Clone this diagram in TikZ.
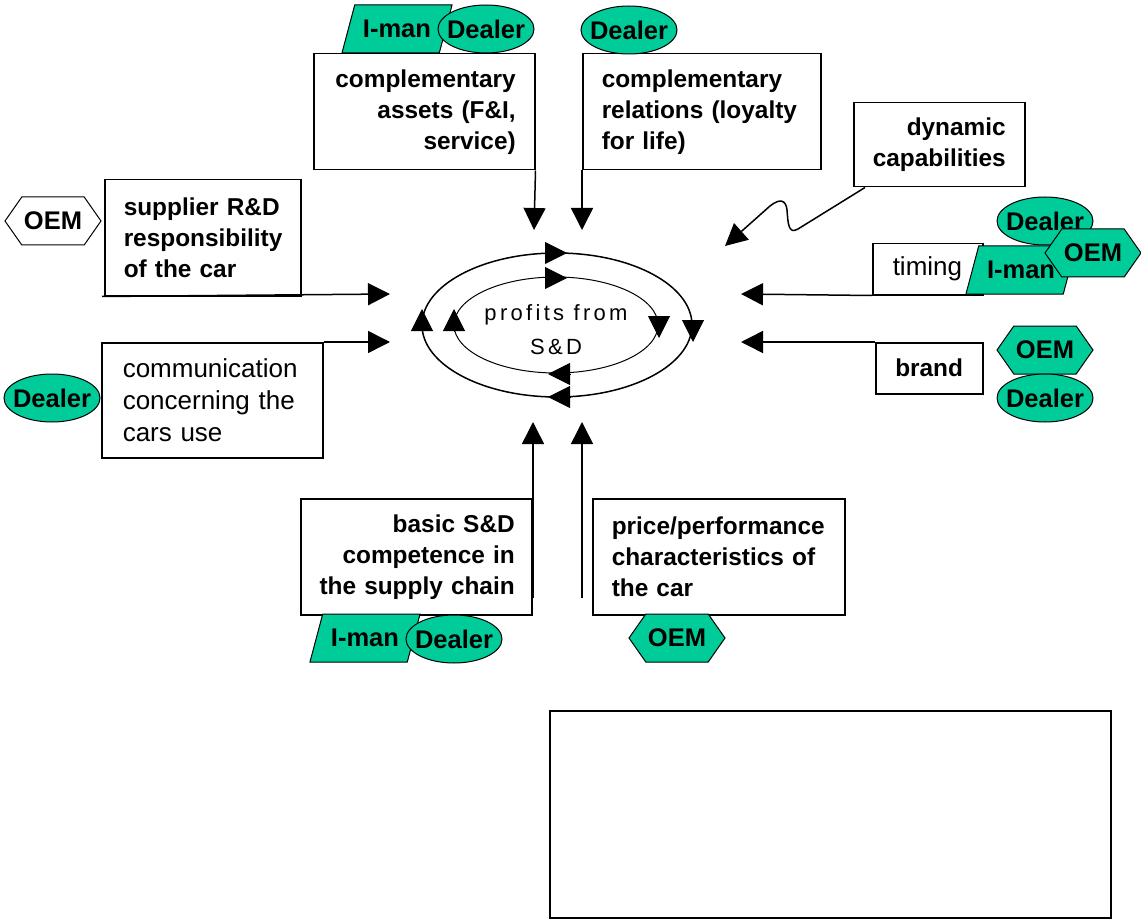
\documentclass[tikz,border=0pt]{standalone}
\usepackage{fontspec}
\setmainfont{Liberation Sans}
\newfontfamily\spacedfont[LetterSpace=15]{Liberation Sans}
\usetikzlibrary{arrows.meta,shapes.geometric,shapes.symbols}
\definecolor{tagGreen}{RGB}{0,204,153}

\begin{document}
\begin{tikzpicture}[x=1pt,y=-1pt,
    box/.style={draw,line width=1.5pt,inner sep=0pt,anchor=north west,
      font=\bfseries\fontsize{24.4}{31}\selectfont},
    plainbox/.style={box,font=\fontsize{26}{32}\selectfont},
    tag/.style={draw,line width=1pt,fill=tagGreen,inner sep=0pt,
      font=\bfseries\fontsize{25.5}{28}\selectfont},
    dealer/.style={tag,ellipse,inner xsep=-7pt,minimum width=96pt,minimum height=48pt},
    oem/.style={tag,signal,signal to=east and west,signal pointer angle=110,
      minimum width=96pt,minimum height=48pt},
    iman/.style={tag,trapezium,trapezium left angle=60,trapezium right angle=120,
      trapezium stretches=true,minimum width=111pt,minimum height=48pt},
    link/.style={line width=1.5pt,-{Triangle[length=22pt,width=22pt]}},
    loophead/.style={line width=1pt,-{Triangle[length=22pt,width=22pt]}}
  ]
\useasboundingbox (0,0) rectangle (1141,920);

% the loop in the middle
\draw[line width=1.5pt] (557,325) ellipse [x radius=135, y radius=72];
\draw[line width=1pt] (556,325) ellipse [x radius=102, y radius=48];
\draw[loophead] (545,253) -- (567,253);
\draw[loophead] (693,320) -- (693,342);
\draw[loophead] (570,397) -- (548,397);
\draw[loophead] (422,331) -- (422,309);
\draw[loophead] (545,278) -- (567,278);
\draw[loophead] (659,316) -- (659,338);
\draw[loophead] (570,374) -- (548,374);
\draw[loophead] (454,331) -- (454,309);
\node[align=center,font=\spacedfont\fontsize{22}{34}\selectfont] (profit) at (556,330)
  {profits from\\S\&D};

% boxes
\node[box,minimum width=221pt,minimum height=116pt,text width=183pt,align=right]
  (assets) at (313,53) {complementary\\assets (F\&I,\\service)};
\node[box,minimum width=238pt,minimum height=116pt,text width=200pt,align=left]
  (relations) at (582,53) {complementary\\relations (loyalty\\for life)};
\node[box,minimum width=171pt,minimum height=84pt,text width=133pt,align=right]
  (dynamic) at (853,102) {dynamic\\capabilities};
\node[box,minimum width=196pt,minimum height=116pt,text width=158pt,align=left]
  (supplier) at (104,179) {supplier R\&D\\responsibility\\of the car};
\node[plainbox,minimum width=221pt,minimum height=115pt,text width=179pt,align=left]
  (communication) at (101,342) {communication\\concerning the\\cars use};
\node[plainbox,minimum width=110pt,minimum height=51pt,text width=70pt,align=left]
  (timing) at (872,243) {timing};
\node[box,minimum width=107pt,minimum height=51pt,text width=68pt,align=left]
  (brand) at (875,342) {brand};
\node[box,minimum width=231pt,minimum height=116pt,text width=197pt,align=right]
  (basic) at (300,498) {basic S\&D\\competence in\\the supply chain};
\node[box,minimum width=252pt,minimum height=116pt,text width=214pt,align=left]
  (price) at (592,498) {price/performance\\characteristics of\\the car};
\node[box,minimum width=561pt,minimum height=207pt] (note) at (549,710) {};

% tags
\node[iman] (assetsIman) at (397,29) {I-man};
\node[dealer] (assetsDealer) at (486,29) {Dealer};
\node[dealer] (relationsDealer) at (629,30) {Dealer};
\node[oem,fill=white] (supplierOem) at (53,221) {OEM};
\node[dealer] (communicationDealer) at (52,398) {Dealer};
\node[dealer] (timingDealer) at (1045,221) {Dealer};
\node[iman] (timingIman) at (1021,270) {I-man};
\node[oem] (timingOem) at (1093,253) {OEM};
\node[oem] (brandOem) at (1045,350) {OEM};
\node[dealer] (brandDealer) at (1045,398) {Dealer};
\node[iman] (basicIman) at (365,638) {I-man};
\node[dealer] (basicDealer) at (454,639) {Dealer};
\node[oem] (priceOem) at (677,638) {OEM};

% free ends of the links
\coordinate (assetsTip) at (534,230);
\coordinate (relationsTip) at (582,230);
\coordinate (supplierTip) at (390,294);
\coordinate (communicationTip) at (390,342);
\coordinate (dynamicTip) at (725,246);
\coordinate (timingTip) at (741,294);
\coordinate (brandTip) at (741,342);
\coordinate (basicFoot) at (533,598);
\coordinate (basicTip) at (533,422);
\coordinate (priceFoot) at (582,598);
\coordinate (priceTip) at (582,422);

% links
\draw[link] (assets.south east) -- (assetsTip);
\draw[link] (relations.south west) -- (relationsTip);
\draw[link] ([xshift=-2pt]supplier.south west) -- (supplierTip);
\draw[link] (communication.north east) -- (communicationTip);
\draw[link] ([xshift=12pt]dynamic.south west) -- (798,229)
  .. controls (788,235) and (788,222) .. (787,210)
  .. controls (786,200) and (780,198) .. (770,206) -- (dynamicTip);
\draw[link] (timing.south west) -- (timingTip);
\draw[link] (brand.north west) -- (brandTip);
\draw[link] (basicFoot) -- (basicTip);
\draw[link] (priceFoot) -- (priceTip);
\end{tikzpicture}
\end{document}
